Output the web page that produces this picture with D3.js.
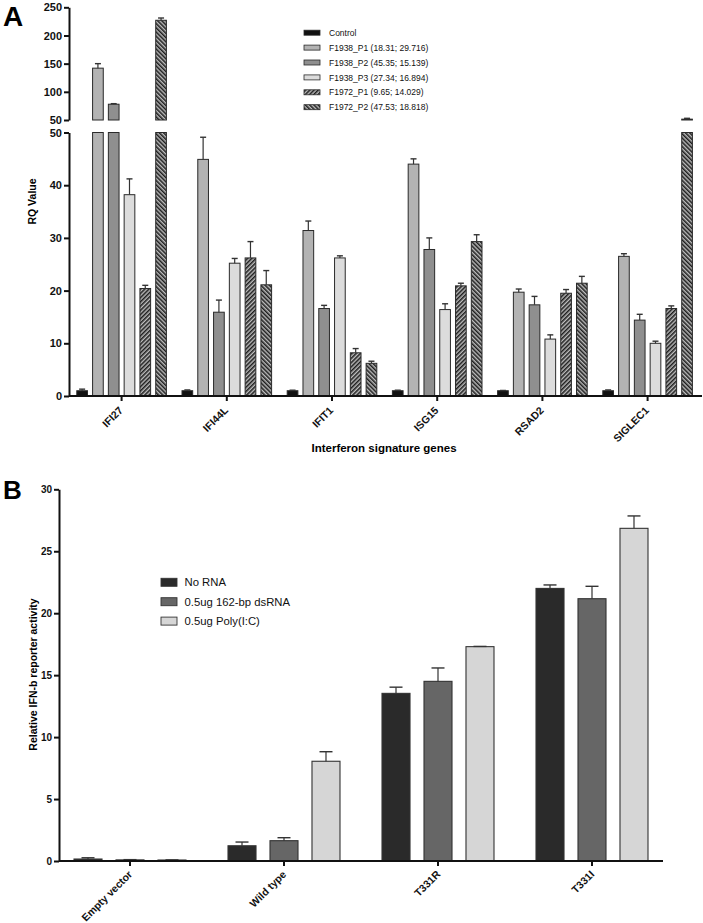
<!DOCTYPE html>
<html><head><meta charset="utf-8">
<script src="https://cdn.jsdelivr.net/npm/d3@7"></script>
<style>body{margin:0;background:#fff}svg{display:block;font-family:"Liberation Sans",Arial,sans-serif}</style>
</head><body>
<script>
// ---------- Panel A data ----------
const genes = ["IFI27","IFI44L","IFIT1","ISG15","RSAD2","SIGLEC1"];
const seriesA = ["Control","F1938_P1 (18.31; 29.716)","F1938_P2 (45.35; 15.139)","F1938_P3 (27.34; 16.894)","F1972_P1 (9.65; 14.029)","F1972_P2 (47.53; 18.818)"];
const valControl = [1.0, 1.0, 1.0, 1.0, 1.0, 1.0];
const errControl = [0.3, 0.15, 0.1, 0.1, 0.05, 0.15];
const valP1 = [142, 44.9, 31.4, 44.0, 19.7, 26.5];
const errP1 = [8, 4.2, 1.8, 1.0, 0.6, 0.5];
const valP2 = [78, 15.9, 16.6, 27.8, 17.3, 14.4];
const errP2 = [1, 2.3, 0.6, 2.2, 1.6, 1.1];
const valP3 = [38.2, 25.2, 26.2, 16.4, 10.8, 10.0];
const errP3 = [3, 0.9, 0.4, 1.1, 0.8, 0.4];
const valF72P1 = [20.4, 26.2, 8.2, 20.9, 19.5, 16.6];
const errF72P1 = [0.6, 3.1, 0.8, 0.5, 0.7, 0.5];
const valF72P2 = [227, 21.1, 6.2, 29.3, 21.4, 51.5];
const errF72P2 = [4, 2.7, 0.4, 1.3, 1.3, 1.5];
const ticksLowA = [0,10,20,30,40,50];
const ticksHighA = [50,100,150,200,250];

// ---------- Panel B data ----------
const constructs = ["Empty vector","Wild type","T331R","T331I"];
const seriesB = ["No RNA","0.5ug 162-bp dsRNA","0.5ug Poly(I:C)"];
const valNoRNA = [0.16, 1.23, 13.53, 22.0];
const errNoRNA = [0.1, 0.3, 0.5, 0.28];
const valDs = [0.09, 1.64, 14.5, 21.17];
const errDs = [0.02, 0.24, 1.08, 1.0];
const valPoly = [0.08, 8.05, 17.3, 26.85];
const errPoly = [0.01, 0.77, 0.02, 1.0];
const ticksB = [0,5,10,15,20,25,30];

const W = 703, H = 923;
const svg = d3.select("body").append("svg").attr("width", W).attr("height", H);
const defs = svg.append("defs");
function hatch(id, angle){
  const p = defs.append("pattern").attr("id", id).attr("patternUnits","userSpaceOnUse")
    .attr("width",3).attr("height",3).attr("patternTransform",`rotate(${angle})`);
  p.append("rect").attr("width",3).attr("height",3).attr("fill","#bdbdbd");
  p.append("line").attr("x1",0.75).attr("y1",0).attr("x2",0.75).attr("y2",3).attr("stroke","#1e1e1e").attr("stroke-width",1.6);
}
hatch("h1", 45); hatch("h2", -45);

const fillsA = ["#111","#b3b3b3","#8f8f8f","#dcdcdc","url(#h1)","url(#h2)"];
const strokeA = "#2a2a2a";

// ===== Panel A =====
const gA = svg.append("g");
const valsA = [valControl,valP1,valP2,valP3,valF72P1,valF72P2];
const errsA = [errControl,errP1,errP2,errP3,errF72P1,errF72P2];
const x0A = d3.scaleBand().domain(genes).range([69, 700.2]).paddingInner(0).paddingOuter(0);
const x1A = d3.scaleBand().domain(seriesA).range([7.8, 97.4]).paddingInner(0.323).paddingOuter(0);
const yLow = d3.scaleLinear().domain([0,50]).range([396,132.5]);
const yHigh = d3.scaleLinear().domain([50,250]).range([120,7.3]);

const dataA = [];
genes.forEach((g,i)=>seriesA.forEach((s,j)=>dataA.push({g,s,j,v:valsA[j][i],e:errsA[j][i]})));

function errBar(g, xc, top, cap, half){
  g.append("line").attr("x1",xc).attr("x2",xc).attr("y1",top).attr("y2",cap).attr("stroke","#333").attr("stroke-width",1.2);
  g.append("line").attr("x1",xc-half).attr("x2",xc+half).attr("y1",cap).attr("y2",cap).attr("stroke","#333").attr("stroke-width",1.4);
}

dataA.forEach(d=>{
  const x = x0A(d.g)+x1A(d.s), w = x1A.bandwidth();
  const fill = fillsA[d.j];
  if (d.v <= 50){
    gA.append("rect").attr("x",x).attr("y",yLow(d.v)).attr("width",w).attr("height",yLow(0)-yLow(d.v))
      .attr("fill",fill).attr("stroke",strokeA).attr("stroke-width",1);
    errBar(gA, x+w/2, yLow(d.v), yLow(d.v+d.e), 3);
  } else {
    gA.append("rect").attr("x",x).attr("y",yLow(50)).attr("width",w).attr("height",yLow(0)-yLow(50))
      .attr("fill",fill).attr("stroke",strokeA).attr("stroke-width",1);
    gA.append("rect").attr("x",x).attr("y",yHigh(d.v)).attr("width",w).attr("height",yHigh(50)-yHigh(d.v))
      .attr("fill",fill).attr("stroke",strokeA).attr("stroke-width",1);
    errBar(gA, x+w/2, yHigh(d.v), yHigh(d.v+d.e), 3);
  }
});

function styleAxis(sel, fs){
  sel.selectAll("path").attr("stroke","#111").attr("stroke-width",2);
  sel.selectAll(".tick line").attr("stroke","#111").attr("stroke-width",2);
  sel.selectAll("text").attr("font-size",fs).attr("font-weight","bold").attr("fill","#111")
    .attr("font-family","'Liberation Sans',Arial,sans-serif");
}
const axLow = gA.append("g").attr("transform","translate(69,0)")
  .call(d3.axisLeft(yLow).tickValues(ticksLowA).tickSize(5).tickSizeOuter(0).tickPadding(2));
styleAxis(axLow, 11);
const axHigh = gA.append("g").attr("transform","translate(69,0)")
  .call(d3.axisLeft(yHigh).tickValues(ticksHighA).tickSize(5).tickSizeOuter(0).tickPadding(2));
styleAxis(axHigh, 11);

const axXA = gA.append("g").attr("transform","translate(0,396)")
  .call(d3.axisBottom(x0A).tickSize(5).tickSizeOuter(0));
axXA.select("path").attr("d","M69,0H702");
styleAxis(axXA, 10.5);
axXA.selectAll("text").attr("text-anchor","end").attr("dy",0).attr("y",0)
  .attr("transform","translate(2,15) rotate(-45)");

gA.append("text").attr("transform","translate(36,201.5) rotate(-90)").attr("text-anchor","middle")
  .attr("font-size",10.5).attr("font-weight","bold").text("RQ Value");
gA.append("text").attr("x",384).attr("y",452).attr("text-anchor","middle")
  .attr("font-size",11.5).attr("font-weight","bold").text("Interferon signature genes");
gA.append("text").attr("x",3).attr("y",26).attr("font-size",28).attr("font-weight","bold").text("A");

const legA = gA.append("g");
seriesA.forEach((s,j)=>{
  const cy = 32.7 + 14.9*j;
  legA.append("rect").attr("x",304).attr("y",cy-2.5).attr("width",16).attr("height",5)
    .attr("fill",fillsA[j]).attr("stroke",strokeA).attr("stroke-width",0.8);
  legA.append("text").attr("x",329).attr("y",cy+3.1).attr("font-size",8.5).attr("fill","#111").text(s);
});

// ===== Panel B =====
const gB = svg.append("g");
const fillsB = ["#2a2a2a","#666666","#d6d6d6"];
const valsB = [valNoRNA,valDs,valPoly];
const errsB = [errNoRNA,errDs,errPoly];
const x0B = d3.scaleBand().domain(constructs).range([53,669]).paddingInner(0).paddingOuter(0);
const x1B = d3.scaleBand().domain(seriesB).range([21,133]).paddingInner(0.333).paddingOuter(0);
const yB = d3.scaleLinear().domain([0,30]).range([861,489.3]);

constructs.forEach((c,i)=>seriesB.forEach((s,j)=>{
  const x = x0B(c)+x1B(s), w = x1B.bandwidth();
  const v = valsB[j][i], e = errsB[j][i];
  gB.append("rect").attr("x",x).attr("y",yB(v)).attr("width",w).attr("height",yB(0)-yB(v))
    .attr("fill",fillsB[j]).attr("stroke","#333").attr("stroke-width",1.1);
  errBar(gB, x+w/2, yB(v), yB(v+e), 6.5);
}));

const axYB = gB.append("g").attr("transform","translate(59,0)")
  .call(d3.axisLeft(yB).tickValues(ticksB).tickSize(5).tickSizeOuter(0).tickPadding(2));
styleAxis(axYB, 10);
const axXB = gB.append("g").attr("transform","translate(0,861)")
  .call(d3.axisBottom(x0B).tickSize(5).tickSizeOuter(0));
axXB.select("path").attr("d","M59,0H663");
styleAxis(axXB, 10.5);
axXB.selectAll("text").attr("text-anchor","end").attr("dy",0).attr("y",0)
  .attr("transform","translate(3,14) rotate(-45)");

gB.append("text").attr("transform","translate(37,674.5) rotate(-90)").attr("text-anchor","middle")
  .attr("font-size",10.5).attr("font-weight","bold").text("Relative IFN-b reporter activity");
gB.append("text").attr("x",3).attr("y",499).attr("font-size",26).attr("font-weight","bold").text("B");

seriesB.forEach((s,j)=>{
  const cy = 582.3 + 19.4*j;
  gB.append("rect").attr("x",161).attr("y",cy-4).attr("width",16).attr("height",8)
    .attr("fill",fillsB[j]).attr("stroke","#333").attr("stroke-width",0.9);
  gB.append("text").attr("x",184.5).attr("y",cy+4).attr("font-size",11.3).attr("fill","#111").text(s);
});
</script>
</body></html>
